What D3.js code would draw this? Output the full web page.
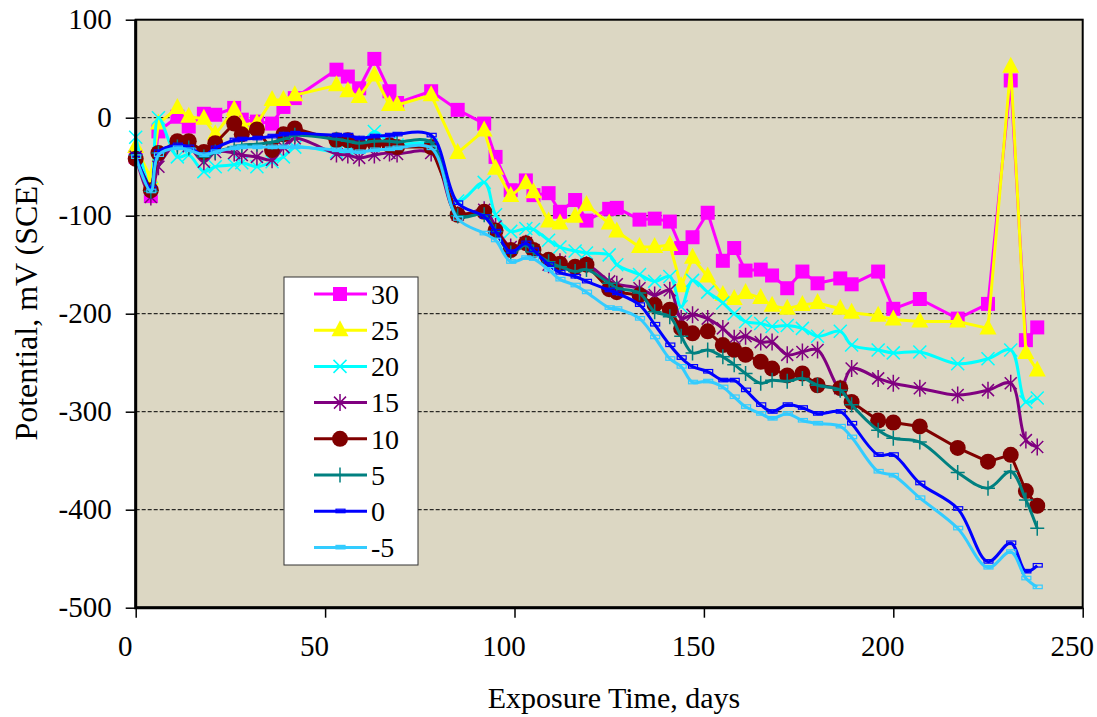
<!DOCTYPE html>
<html>
<head>
<meta charset="utf-8">
<script src="https://cdn.jsdelivr.net/npm/d3@7"></script>
<style>
body { margin: 0; background: #fff; }
svg text { font-family: "Liberation Serif", "Times New Roman", "DejaVu Serif", serif; }
</style>
</head>
<body>
<div id="container"></div>
<script>
// ==============
//	DATA
// ==============

var days = [0, 4, 6, 11, 14, 18, 21, 26, 28, 32, 36, 39, 42, 53, 56, 59, 63, 67, 69, 78,
	85, 92, 95, 99, 103, 105, 109, 112, 116, 119, 125, 127, 133, 137, 141, 144, 147, 151, 155, 158,
	161, 165, 168, 172, 176, 180, 186, 189, 196, 200, 207, 217, 225, 231, 235, 238];

var s30 = [-40, -80, -14, 1, -9, 4, 3, 10, -2, -4, -6, 11, 20, 49, 42, 30, 60, 27, 15, 27,
	8, -6, -40, -74, -64, -79, -77, -96, -84, -105, -93, -92, -104, -103, -106, -133, -122, -97, -146, -133,
	-156, -155, -161, -174, -157, -169, -164, -170, -157, -195, -185, -205, -190, 38, -227, -214];

var s25 = [-30, -62, -6, 10, 1, -1, -17, 8, -7, -6, 18, 18, 23, 33, 27, 21, 43, 13, 13, 23,
	-36, -13, -52, -80, -67, -76, -106, -108, -101, -89, -108, -116, -132, -132, -130, -172, -143, -162, -181, -185,
	-179, -184, -192, -195, -191, -189, -195, -199, -202, -206, -208, -208, -215, 52, -240, -258];

var s20 = [-20, -72, 0, -40, -38, -55, -50, -48, -46, -50, -45, -40, -30, -35, -33, -30, -14, -26, -28, -28,
	-85, -66, -99, -116, -113, -114, -125, -132, -136, -138, -140, -150, -160, -167, -162, -193, -166, -178, -189, -200,
	-208, -210, -213, -212, -215, -223, -218, -232, -237, -240, -239, -251, -246, -237, -290, -286];

var s15 = [-40, -81, -50, -26, -29, -45, -35, -36, -38, -40, -43, -30, -21, -37, -38, -41, -38, -36, -37, -36,
	-99, -94, -111, -132, -128, -135, -150, -147, -155, -150, -167, -170, -174, -181, -176, -205, -201, -205, -215, -225,
	-223, -229, -229, -242, -239, -237, -276, -256, -266, -271, -276, -283, -278, -271, -329, -336];

var s10 = [-42, -74, -36, -24, -24, -35, -26, -6, -17, -12, -33, -17, -11, -23, -23, -28, -26, -28, -30, -30,
	-99, -96, -115, -135, -128, -135, -145, -149, -152, -150, -175, -178, -181, -191, -196, -215, -220, -218, -232, -237,
	-242, -249, -256, -263, -261, -273, -276, -290, -309, -311, -315, -337, -351, -344, -381, -396];

var s5 = [-38, -75, -36, -30, -31, -40, -35, -30, -28, -27, -25, -22, -18, -22, -24, -26, -24, -24, -25, -25,
	-100, -99, -116, -138, -130, -137, -147, -152, -157, -155, -169, -174, -179, -198, -203, -223, -240, -237, -244, -252,
	-261, -271, -268, -269, -266, -273, -278, -293, -319, -327, -331, -362, -378, -361, -390, -419];

var s0 = [-38, -72, -35, -28, -30, -38, -31, -23, -22, -21, -19, -17, -16, -18, -18, -21, -19, -18, -17, -18,
	-87, -101, -116, -137, -128, -135, -150, -158, -162, -167, -176, -179, -191, -211, -232, -245, -254, -259, -268, -268,
	-278, -293, -300, -293, -296, -302, -300, -312, -344, -344, -373, -399, -453, -434, -463, -457];

var sm5 = [-40, -75, -38, -31, -33, -38, -35, -31, -30, -30, -30, -30, -30, -33, -34, -35, -33, -32, -31, -31,
	-103, -118, -125, -147, -143, -144, -155, -165, -171, -178, -194, -195, -205, -224, -246, -254, -270, -269, -275, -285,
	-295, -302, -307, -302, -309, -312, -315, -326, -361, -365, -388, -419, -459, -443, -470, -479];

var seriesNames = ["30", "25", "20", "15", "10", "5", "0", "-5"];
var seriesValues = [s30, s25, s20, s15, s10, s5, s0, sm5];

var xTicks = [0, 50, 100, 150, 200, 250];
var yTicks = [100, 0, -100, -200, -300, -400, -500];

// ==============
//	OPTIONS
// ==============

var W = 1097, H = 717,
	plot = {left: 135.7, right: 1082.7, top: 19.7, bottom: 607.7};

var colours = ["#ff00ff", "#ffff00", "#00ffff", "#800080", "#800000", "#008080", "#0000ff", "#33ccff"],
	symbols = ["square", "triangle", "x", "star", "circle", "plus", "dash", "dash"],
	smooth = [false, false, true, true, false, true, true, true],
	colPlot = "#dcd7c3";

var x = d3.scaleLinear().domain([0, 250]).range([plot.left, plot.right]),
	y = d3.scaleLinear().domain([-500, 100]).range([plot.bottom, plot.top]);

var svg = d3.select("#container").append("svg")
	.attr("width", W)
	.attr("height", H);

// === plot area
svg.append("rect")
	.attr("x", plot.left).attr("y", plot.top)
	.attr("width", plot.right - plot.left)
	.attr("height", plot.bottom - plot.top)
	.attr("fill", colPlot);

// === gridlines
svg.append("g")
	.selectAll("line")
	.data(yTicks.filter(d => d < 100 && d > -500))
	.join("line")
	.attr("x1", plot.left).attr("x2", plot.right)
	.attr("y1", d => y(d)).attr("y2", d => y(d))
	.attr("stroke", "#000")
	.attr("stroke-width", 1)
	.attr("stroke-dasharray", "4,2");

// === series
var data = seriesNames.map(function(name, i) {
	return {
		name: name,
		colour: colours[i],
		symbol: symbols[i],
		smooth: smooth[i],
		points: days.map((d, j) => ({day: d, v: seriesValues[i][j]}))
	};
});

svg.append("clipPath").attr("id", "clip")
	.append("rect")
	.attr("x", plot.left - 10).attr("y", plot.top)
	.attr("width", plot.right - plot.left + 10)
	.attr("height", plot.bottom - plot.top);

var series = svg.append("g")
	.attr("clip-path", "url(#clip)")
	.selectAll("g")
	.data(data)
	.join("g");

series.append("path")
	.attr("fill", "none")
	.attr("stroke", d => d.colour)
	.attr("stroke-width", 3)
	.attr("stroke-linejoin", "round")
	.attr("d", function(d) {
		var line = d3.line()
			.x(p => x(p.day))
			.y(p => y(p.v))
			.curve(d.smooth ? d3.curveCatmullRom.alpha(0.5) : d3.curveLinear);
		return line(d.points);
	});

series.each(function(d) {
	var g = d3.select(this);
	d.points.forEach(function(p) {
		drawMarker(g, d.symbol, d.colour, x(p.day), y(p.v));
	});
});

// === axes
var yAxis = d3.axisLeft(y)
	.tickValues(yTicks)
	.tickFormat(d => String(d))
	.tickSize(10)
	.tickPadding(14);

var gy = svg.append("g")
	.attr("transform", "translate(" + plot.left + ",0)")
	.call(yAxis);

var xAxis = d3.axisBottom(x)
	.tickValues(xTicks)
	.tickFormat(d => String(d))
	.tickSize(10)
	.tickPadding(18);

var gx = svg.append("g")
	.attr("transform", "translate(0," + plot.bottom + ")")
	.call(xAxis);

[gx, gy].forEach(function(g) {
	g.attr("font-family", null).attr("font-size", null);
	g.select(".domain").remove();
	g.selectAll(".tick line").attr("stroke", "#000").attr("stroke-width", 1.5);
	g.selectAll("text")
		.style("font-size", "29px")
		.attr("fill", "#000");
});
gx.selectAll("text").attr("dx", -11);

// === plot border
svg.append("rect")
	.attr("x", plot.left).attr("y", plot.top)
	.attr("width", plot.right - plot.left)
	.attr("height", plot.bottom - plot.top)
	.attr("fill", "none")
	.attr("stroke", "#000")
	.attr("stroke-width", 2);

svg.append("path")
	.attr("d", "M" + plot.left + "," + plot.top + "V" + plot.bottom + "H" + plot.right)
	.attr("fill", "none")
	.attr("stroke", "#000")
	.attr("stroke-width", 3);

// === axis titles
svg.append("text")
	.attr("x", 614).attr("y", 697)
	.attr("text-anchor", "middle")
	.attr("dy", "0.35em")
	.style("font-size", "30px")
	.text("Exposure Time, days");

svg.append("text")
	.attr("transform", "translate(26,308) rotate(-90)")
	.attr("text-anchor", "middle")
	.attr("dy", "0.35em")
	.style("font-size", "32px")
	.text("Potential, mV (SCE)");

// === legend
var legend = svg.append("g");

legend.append("rect")
	.attr("x", 284).attr("y", 277)
	.attr("width", 134).attr("height", 288)
	.attr("fill", "#fff")
	.attr("stroke", "#333")
	.attr("stroke-width", 1);

var entry = legend.selectAll("g.entry")
	.data(data)
	.join("g")
	.attr("class", "entry")
	.attr("transform", (d, i) => "translate(0," + (294 + i * 36.2) + ")");

entry.append("line")
	.attr("x1", 314).attr("x2", 367)
	.attr("stroke", d => d.colour)
	.attr("stroke-width", 3);

entry.each(function(d) {
	drawMarker(d3.select(this), d.symbol, d.colour, 340, 0);
});

entry.append("text")
	.attr("x", 371)
	.attr("dy", "0.35em")
	.style("font-size", "28px")
	.text(d => d.name);

// ==============
//	FUNCTIONS
// ==============

function drawMarker(g, symbol, colour, cx, cy) {
	var t = "translate(" + cx + "," + cy + ")";
	if (symbol == "square") {
		g.append("rect").attr("x", cx - 7).attr("y", cy - 7)
			.attr("width", 14).attr("height", 14).attr("fill", colour);
	} else if (symbol == "triangle") {
		g.append("path").attr("transform", t)
			.attr("d", "M0,-10L8.5,6H-8.5Z").attr("fill", colour);
	} else if (symbol == "circle") {
		g.append("circle").attr("cx", cx).attr("cy", cy).attr("r", 8).attr("fill", colour);
	} else if (symbol == "x") {
		g.append("path").attr("transform", t)
			.attr("d", "M-6.5,-6.5L6.5,6.5M-6.5,6.5L6.5,-6.5")
			.attr("stroke", colour).attr("stroke-width", 1.5).attr("fill", "none");
	} else if (symbol == "star") {
		g.append("path").attr("transform", t)
			.attr("d", "M-6,-6L6,6M-6,6L6,-6M0,-8.5V8.5")
			.attr("stroke", colour).attr("stroke-width", 1.5).attr("fill", "none");
	} else if (symbol == "plus") {
		g.append("path").attr("transform", t)
			.attr("d", "M-7,0H7M0,-7.5V7.5")
			.attr("stroke", colour).attr("stroke-width", 1.5).attr("fill", "none");
	} else if (symbol == "dash") {
		g.append("rect").attr("x", cx - 4).attr("y", cy - 2)
			.attr("width", 9).attr("height", 3.5)
			.attr("fill", "none").attr("stroke", colour).attr("stroke-width", 1.2);
	}
}
</script>
</body>
</html>
